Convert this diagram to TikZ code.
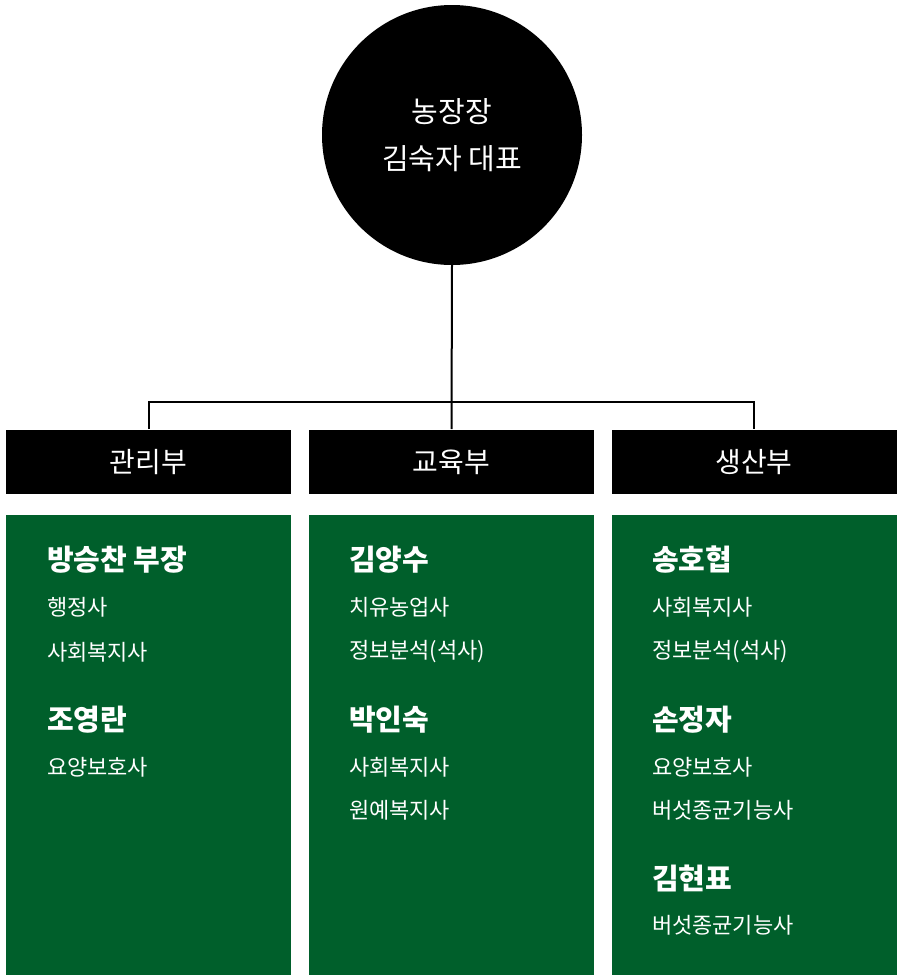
\documentclass[tikz,border=0pt]{standalone}
\usepackage{fontspec}
\setmainfont{Noto Sans CJK KR}
\usepackage{tikz}
\usetikzlibrary{positioning}
\definecolor{farmgreen}{HTML}{005F2B}
\begin{document}
\begin{tikzpicture}[x=1pt,y=-1pt,line width=2pt,node distance=19pt,
  boss/.style={circle,fill=black,draw=black,minimum size=258pt,inner sep=0pt,text=white,align=center,font=\fontsize{29}{47}\selectfont},
  dept/.style={fill=black,minimum width=285pt,minimum height=64pt,inner sep=0pt,text=white,font=\fontsize{28}{30}\selectfont},
  panel/.style={fill=farmgreen,minimum width=285pt,minimum height=460pt,inner sep=0pt},
  who/.style={anchor=west,inner sep=0pt,text=white,font=\fontsize{29}{32}\selectfont\bfseries},
  job/.style={anchor=west,inner sep=0pt,text=white,font=\fontsize{22}{24}\selectfont}]
\useasboundingbox (0,0) rectangle (905,980);
\node[boss](ceo) at (452,135){농장장\\김숙자 대표};
\node[dept](admin) at (148.5,462){관리부};
\node[dept](edu) at (451.5,462){교육부};
\node[dept](prod) at (754,462){생산부};
\node[panel,below=of admin](adminp){};
\node[panel,below=of edu](edup){};
\node[panel,below=of prod](prodp){};
\coordinate (bar) at (452,402);
\draw (ceo.south)--(edu.north);
\draw (admin.north)|-(bar)-|(prod.north);
% 관리부
\node[who](a1) at (46,560){방승찬 부장};
\node[job](a1j1) at (46,607){행정사};
\node[job](a1j2) at (46,652){사회복지사};
\node[who](a2) at (46,720){조영란};
\node[job](a2j1) at (46,767){요양보호사};
% 교육부
\node[who](e1) at (348,560){김양수};
\node[job](e1j1) at (348,607){치유농업사};
\node[job](e1j2) at (348,652){정보분석(석사)};
\node[who](e2) at (348,720){박인숙};
\node[job](e2j1) at (348,767){사회복지사};
\node[job](e2j2) at (348,810){원예복지사};
% 생산부
\node[who](p1) at (651,560){송호협};
\node[job](p1j1) at (651,607){사회복지사};
\node[job](p1j2) at (651,652){정보분석(석사)};
\node[who](p2) at (651,720){손정자};
\node[job](p2j1) at (651,767){요양보호사};
\node[job](p2j2) at (651,810){버섯종균기능사};
\node[who](p3) at (651,878){김현표};
\node[job](p3j1) at (651,925){버섯종균기능사};
\end{tikzpicture}
\end{document}
